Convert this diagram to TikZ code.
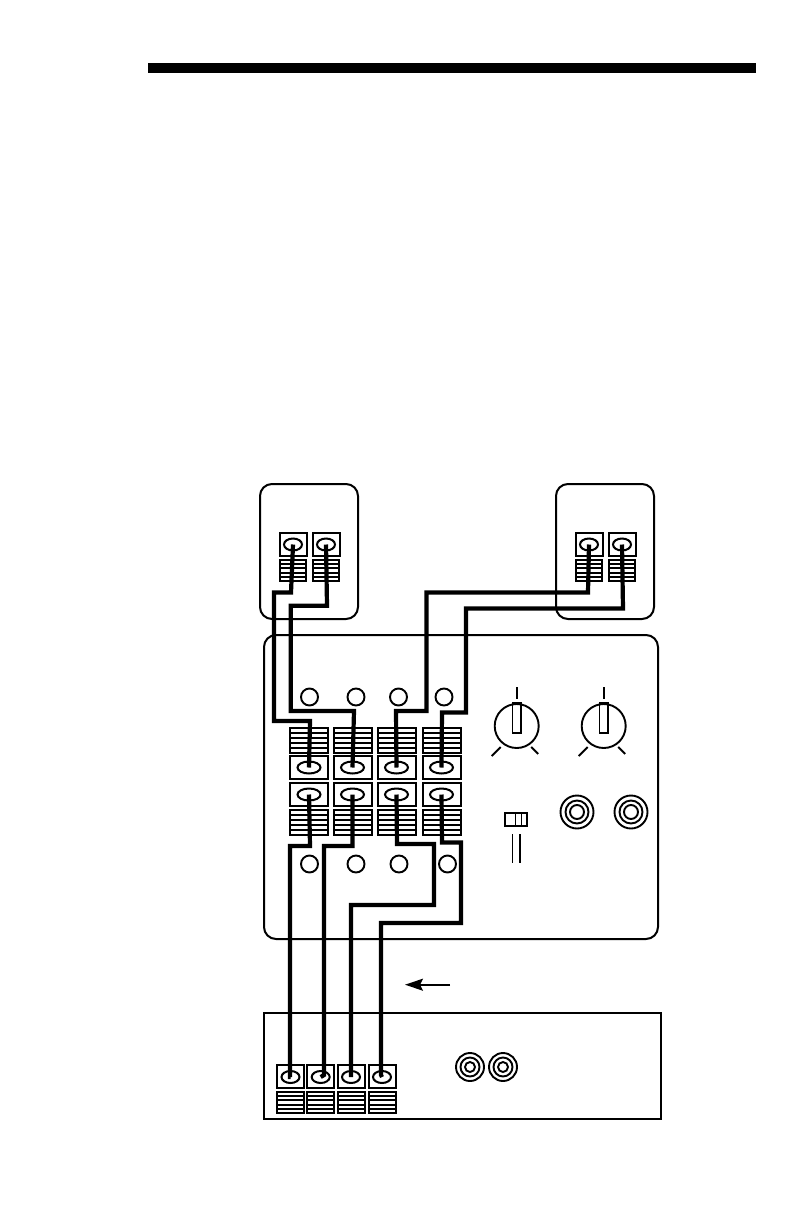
\documentclass[tikz,border=0pt]{standalone}
\usetikzlibrary{shapes.geometric,arrows.meta,calc}
\tikzset{
  panel/.style={draw, line width=2pt, rectangle, rounded corners=12pt, inner sep=0pt, outer sep=0pt},
  plate/.style={draw, line width=2pt, rectangle, fill=white, inner sep=0pt, outer sep=0pt, minimum height=23pt},
  post/.style={draw, line width=2pt, ellipse, inner sep=0pt, outer sep=0pt, minimum height=12pt},
  strip/.style={draw, line width=2pt, rectangle, inner sep=0pt, outer sep=0pt},
  hole/.style={draw, line width=1.9pt, circle, inner sep=0pt, outer sep=0pt, minimum size=17pt},
  knob/.style={draw, line width=1.9pt, circle, inner sep=0pt, outer sep=0pt, minimum size=44pt},
  ring/.style={draw, line width=1.9pt, circle, inner sep=0pt, outer sep=0pt},
  wire/.style={line width=4.2pt},
  tick/.style={line width=1.9pt}
}
\newcommand{\striplines}[1]{%
  \foreach \t in {0.2,0.4,0.6,0.8}
    \draw[line width=2pt] ($(#1.north west)!\t!(#1.south west)$) -- ($(#1.north east)!\t!(#1.south east)$);
}
\begin{document}
\begin{tikzpicture}[x=1pt,y=-1pt]
    \useasboundingbox (0,0) rectangle (792,1224);
    \fill (148,63) rectangle (756,73);
    % cabinets
    \draw[panel] (260,484) rectangle (358,619);
    \draw[panel] (556,484) rectangle (654,619);
    \draw[panel] (264,635) rectangle (658,939);
    \draw[line width=2pt] (264,1013) rectangle (661,1119);
    %
    % speaker terminals
    \foreach \n/\x in {a/293,b/326,c/589,d/622} {
      \node[plate, minimum width=27pt] (spk\n box) at (\x,544.5) {};
      \node[post, minimum width=18pt] (spk\n) at (\x,544.5) {};
      \node[strip, minimum width=26pt, minimum height=21pt] (spk\n strip) at (\x,570.5) {};
      \striplines{spk\n strip}
    }
    %
    % amplifier terminals
    \foreach \n/\x in {a/309,b/352.5,c/396.5,d/441.5} {
      \node[strip, minimum width=38pt, minimum height=25pt] (up\n strip) at (\x,740) {};
      \striplines{up\n strip}
      \node[plate, minimum width=38pt] (up\n box) at (\x,767) {};
      \node[post, minimum width=23pt] (up\n) at (\x,767.5) {};
      \node[plate, minimum width=38pt] (lo\n box) at (\x,794.5) {};
      \node[post, minimum width=23pt] (lo\n) at (\x,794.5) {};
      \node[strip, minimum width=38pt, minimum height=25pt] (lo\n strip) at (\x,822) {};
      \striplines{lo\n strip}
    }
    \foreach \n/\x in {a/309.5,b/356,c/398.5,d/444} \node[hole] (holeup\n) at (\x,697) {};
    \foreach \n/\x in {a/309.5,b/356,c/399,d/447.5} \node[hole] (holelo\n) at (\x,864) {};
    %
    % source terminals
    \foreach \n/\x in {a/290.5,b/320.7,c/351,d/382} {
      \node[plate, minimum width=27pt] (src\n box) at (\x,1076.5) {};
      \node[post, minimum width=18pt] (src\n) at (\x,1077) {};
      \node[strip, minimum width=27pt, minimum height=21pt] (src\n strip) at (\x,1102.5) {};
      \striplines{src\n strip}
    }
    %
    % controls
    \foreach \n/\x in {a/516.7,b/603.7} {
      \node[knob] (knob\n) at (\x,726) {};
      \node[draw, line width=1.9pt, rectangle, inner sep=0pt, minimum width=8.5pt, minimum height=30pt] (slot\n) at (\x,718) {};
      \draw[tick] ($(knob\n.center)+(0,-39)$) -- ($(knob\n.center)+(0,-27)$);
      \draw[tick] ($(knob\n.center)+(-16,21)$) -- ($(knob\n.center)+(-25,30)$);
      \draw[tick] ($(knob\n.center)+(14.5,21)$) -- ($(knob\n.center)+(21.5,28)$);
    }
    \foreach \n/\x in {a/577,b/631} {
      \node[ring, minimum size=33pt] (jack\n) at (\x,812) {};
      \node[ring, minimum size=23pt] at (jack\n.center) {};
      \node[ring, minimum size=14pt] at (jack\n.center) {};
    }
    \foreach \n/\x in {c/470,d/503} {
      \node[ring, minimum size=28pt] (jack\n) at (\x,1067) {};
      \node[ring, minimum size=19pt] at (jack\n.center) {};
      \node[ring, minimum size=10pt] at (jack\n.center) {};
    }
    \node[draw, line width=2pt, rectangle, inner sep=0pt, minimum width=22pt, minimum height=13pt] (slide) at (515.5,819.7) {};
    \draw[line width=1.4pt] ($(slide.north)+(0,0)$) -- ($(slide.south)+(0,0)$);
    \draw[line width=1.4pt] ($(slide.north)+(6,0)$) -- ($(slide.south)+(6,0)$);
    \draw[tick] ($(slide.south)+(-3,7)$) -- ($(slide.south)+(-3,35.5)$);
    \draw[tick] ($(slide.south)+(4.5,7)$) -- ($(slide.south)+(4.5,35.5)$);
    %
    % cables
    \draw[wire] (spka.center) -- (291,592.5) -- (274,592.5) -- (274,721) -- (310,721) -- (upa.center);
    \draw[wire] (spkb.center) -- (327,605.7) -- (290.7,605.7) -- (290.7,711) -- (354,711) -- (upb.center);
    \draw[wire] (spkc.center) -- (588,592.5) -- (426.5,592.5) -- (426.5,711) -- (396,711) -- (upc.center);
    \draw[wire] (spkd.center) -- (623,608.5) -- (466,608.5) -- (466,712.5) -- (442,712.5) -- (upd.center);
    \draw[wire] (loa.center) -- (310,846) -- (290,846) -- (290,1077) -- (srca.center);
    \draw[wire] (lob.center) -- (352.5,846) -- (324,846) -- (324,1075) -- (srcb.center);
    \draw[wire] (loc.center) -- (397,844) -- (434,844) -- (434,905) -- (351,905) -- (srcc.center);
    \draw[wire] (lod.center) -- (442,842.5) -- (461,842.5) -- (461,923) -- (381,923) -- (381,1075) -- (srcd.center);
    %
    \coordinate (flowstart) at (450,984.7);
    \coordinate (flowend) at (405,984.7);
    \draw[-{Stealth[length=18pt,width=12pt,inset=3pt]}, line width=1.7pt] (flowstart) -- (flowend);
\end{tikzpicture}
\end{document}
